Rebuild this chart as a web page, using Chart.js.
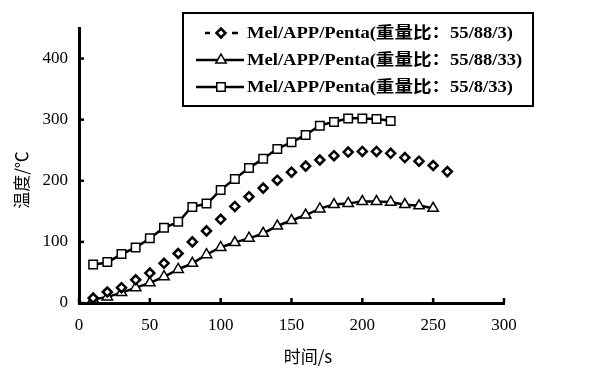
<!DOCTYPE html>
<html>
<head>
<meta charset="utf-8">
<script src="https://cdn.jsdelivr.net/npm/chart.js@4.4.1/dist/chart.umd.min.js"></script>
<style>
  html, body { margin: 0; padding: 0; background: #fff; }
  #wrap { width: 597px; height: 381px; position: relative; }
</style>
</head>
<body>
<div id="wrap"><canvas id="c"></canvas></div>
<script>
// 데이터 /////////////////////////////////////////////
const seriesNames = [
  'Mel/APP/Penta(重量比：55/88/3)',
  'Mel/APP/Penta(重量比：55/88/33)',
  'Mel/APP/Penta(重量比：55/8/33)'
];
const times = [10,20,30,40,50,60,70,80,90,100,110,120,130,140,150,160,170,180,190,200,210,220,230,240,250,260];
const temp_88_3 = [8,18,25,38,49,65,81,100,118,137,158,174,188,201,214,224,234,241,247,248,248,245,238,232,225,215];
const temp_88_33 = [6,10,17,25,33,43,55,65,79,91,99,106,114,126,135,144,154,161,163,166,166,165,161,159,155];
const temp_8_33 = [63,67,80,91,106,123,133,157,163,185,203,221,236,252,263,275,290,296,302,302,301,298];
const xTicks = [0,50,100,150,200,250,300];
const yTicks = [0,100,200,300,400];
const xTitle = '时间/s';
const yTitle = '温度/℃';

const serif = '"Liberation Serif", "Times New Roman", "Noto Sans CJK SC", serif';
const cjk = '"Noto Sans CJK SC", sans-serif';

function toPts(ys) {
  return ys.map((v, i) => ({ x: times[i], y: v }));
}

// 축 눈금(안쪽) + 축 제목 + 범례 박스
const extras = {
  id: 'extras',
  afterDraw(chart) {
    const ctx = chart.ctx;
    const xs = chart.scales.x, ys = chart.scales.y;
    const area = chart.chartArea;
    ctx.save();
    ctx.strokeStyle = '#000';
    ctx.lineWidth = 2.5;
    xTicks.forEach(v => {
      const px = xs.getPixelForValue(v);
      ctx.beginPath();
      ctx.moveTo(px, area.bottom);
      ctx.lineTo(px, area.bottom - 5);
      ctx.stroke();
    });
    yTicks.forEach(v => {
      const py = ys.getPixelForValue(v);
      ctx.beginPath();
      ctx.moveTo(area.left, py);
      ctx.lineTo(area.left + 5, py);
      ctx.stroke();
    });

    // 축 제목
    ctx.fillStyle = '#000';
    ctx.font = '17px ' + cjk;
    ctx.textAlign = 'center';
    ctx.textBaseline = 'middle';
    ctx.fillText(xTitle, area.left + 229, 357);
    ctx.save();
    ctx.translate(22, 180);
    ctx.rotate(-Math.PI / 2);
    ctx.fillText(yTitle, 0, 0);
    ctx.restore();

    // 범례
    ctx.lineWidth = 2;
    ctx.strokeRect(183, 13, 350, 93);
    const rows = [33, 60, 87];
    const mx = 221;
    chart.data.datasets.forEach((ds, i) => {
      const y = rows[i];
      ctx.strokeStyle = '#000';
      ctx.lineWidth = 2.5;
      ctx.beginPath();
      if (i === 0) {
        ctx.moveTo(205, y); ctx.lineTo(210, y);
        ctx.moveTo(232, y); ctx.lineTo(238, y);
      } else {
        ctx.moveTo(196, y); ctx.lineTo(244, y);
      }
      ctx.stroke();
      ctx.fillStyle = '#fff';
      ctx.lineWidth = ds.pointBorderWidth;
      Chart.helpers.drawPoint(ctx, {
        pointStyle: ds.pointStyle,
        radius: ds.pointRadius,
        borderWidth: ds.pointBorderWidth
      }, mx, y);
      ctx.fillStyle = '#000';
      ctx.font = 'bold 16px ' + serif;
      ctx.textAlign = 'left';
      ctx.save();
      ctx.translate(247, y + 1);
      ctx.scale(1.16, 1);
      ctx.fillText(ds.label, 0, 0);
      ctx.restore();
    });
    ctx.restore();
  }
};

const markerCommon = {
  pointBackgroundColor: '#fff',
  pointBorderColor: '#000',
  borderColor: '#000',
  backgroundColor: '#fff'
};

new Chart(document.getElementById('c'), {
  type: 'line',
  data: {
    datasets: [
      Object.assign({
        label: seriesNames[0],
        data: toPts(temp_88_3),
        showLine: false,
        pointStyle: 'rectRot',
        pointRadius: 4.5,
        pointBorderWidth: 2.5
      }, markerCommon),
      Object.assign({
        label: seriesNames[1],
        data: toPts(temp_88_33),
        borderWidth: 2.5,
        tension: 0.25,
        pointStyle: 'triangle',
        pointRadius: 6,
        pointBorderWidth: 1.5
      }, markerCommon),
      Object.assign({
        label: seriesNames[2],
        data: toPts(temp_8_33),
        borderWidth: 2.5,
        tension: 0.25,
        pointStyle: 'rect',
        pointRadius: 6,
        pointBorderWidth: 1.5
      }, markerCommon)
    ]
  },
  options: {
    responsive: true,
    maintainAspectRatio: false,
    animation: false,
    layout: { padding: { top: 28, right: 93, left: 0, bottom: 0 } },
    plugins: {
      legend: { display: false },
      tooltip: { enabled: false }
    },
    scales: {
      x: {
        type: 'linear',
        min: 0, max: 300,
        afterFit: s => { s.height = 78; },
        grid: { display: false, drawTicks: false },
        border: { display: true, color: '#000', width: 3 },
        ticks: {
          stepSize: 50,
          padding: 12,
          color: '#000',
          font: { family: serif, size: 17 }
        }
      },
      y: {
        min: 0, max: 450,
        afterFit: s => { s.width = 79; },
        grid: { display: false, drawTicks: false },
        border: { display: true, color: '#000', width: 3 },
        ticks: {
          stepSize: 100,
          includeBounds: false,
          padding: 11,
          color: '#000',
          font: { family: serif, size: 17 }
        }
      }
    }
  },
  plugins: [extras]
});
</script>
</body>
</html>
